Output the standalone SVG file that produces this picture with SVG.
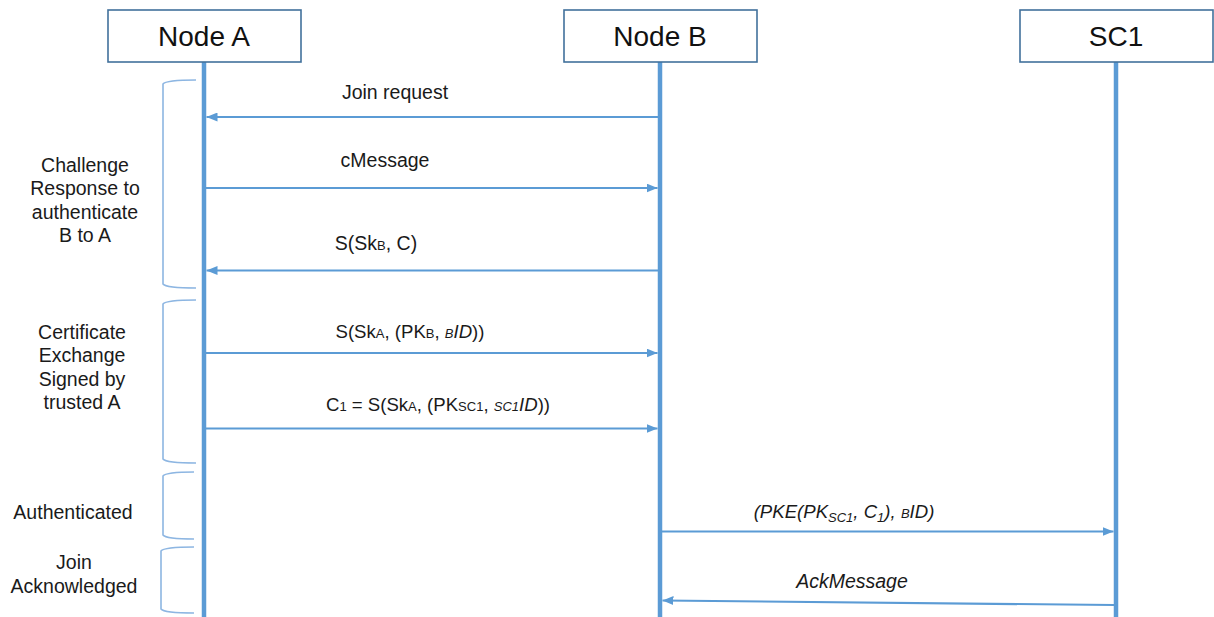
<svg xmlns="http://www.w3.org/2000/svg" width="1214" height="617" viewBox="0 0 1214 617">
  <style>
    .box { fill: #ffffff; stroke: #41719C; stroke-width: 1.6; }
    .title { font-family: "Liberation Sans", Arial, sans-serif; font-size: 28px; fill: #111; text-anchor: middle; }
    .life { stroke: #5B9BD5; stroke-width: 4.5; }
    .msg { stroke: #5B9BD5; stroke-width: 2.2; fill: none; marker-end: url(#head); }
    .lbl { font-family: "Liberation Sans", Arial, sans-serif; font-size: 19.5px; fill: #1a1a1a; text-anchor: middle; }
    .tight { font-size: 18.6px; }
    .note { font-family: "Liberation Sans", Arial, sans-serif; font-size: 19.5px; fill: #1a1a1a; text-anchor: middle; }
    .brace { stroke: #8DB6E2; stroke-width: 1.6; fill: none; }
    .sm { font-size: 13px; }
    .it { font-style: italic; }
  </style>
  <defs>
    <marker id="head" markerUnits="userSpaceOnUse" markerWidth="11" markerHeight="9" refX="11" refY="4.5" orient="auto">
      <path d="M0,0 L11,4.5 L0,9 z" fill="#5B9BD5"/>
    </marker>
  </defs>

  <rect width="1214" height="617" fill="#ffffff"/>

  <!-- lifelines -->
  <g id="lifelines">
    <line class="life" x1="204" y1="62" x2="204" y2="617"/>
    <line class="life" x1="660" y1="62" x2="660" y2="617"/>
    <line class="life" x1="1116" y1="62" x2="1116" y2="617"/>
  </g>

  <!-- participants -->
  <g id="node-a">
    <rect class="box" x="108" y="10" width="193" height="52"/>
    <text class="title" x="204" y="46">Node A</text>
  </g>
  <g id="node-b">
    <rect class="box" x="564" y="10" width="193" height="52"/>
    <text class="title" x="660" y="46">Node B</text>
  </g>
  <g id="sc1">
    <rect class="box" x="1020" y="10" width="193" height="52"/>
    <text class="title" x="1116" y="46">SC1</text>
  </g>

  <!-- phase brackets -->
  <g id="phase-challenge">
    <path class="brace" d="M196,80 Q166,80 163,84 L163,284 Q166,288 196,288"/>
    <text class="note" x="85" y="172">Challenge</text>
    <text class="note" x="85" y="195">Response to</text>
    <text class="note" x="85" y="219">authenticate</text>
    <text class="note" x="85" y="242">B to A</text>
  </g>
  <g id="phase-certificate">
    <path class="brace" d="M196,300 Q166,300 163,304 L163,459 Q166,463 196,463"/>
    <text class="note" x="82" y="339">Certificate</text>
    <text class="note" x="82" y="362">Exchange</text>
    <text class="note" x="82" y="386">Signed by</text>
    <text class="note" x="82" y="409">trusted A</text>
  </g>
  <g id="phase-authenticated">
    <path class="brace" d="M194,472 Q166,472 163,476 L163,535 Q166,539 194,539"/>
    <text class="note" x="73" y="519">Authenticated</text>
  </g>
  <g id="phase-join">
    <path class="brace" d="M194,547 Q164,547 161,551 L161,609 Q164,613 194,613"/>
    <text class="note" x="74" y="569">Join</text>
    <text class="note" x="74" y="593">Acknowledged</text>
  </g>

  <!-- messages -->
  <g id="connectors">
    <line class="msg" x1="658" y1="117" x2="206.5" y2="117"/>
    <line class="msg" x1="206" y1="188" x2="657.5" y2="188"/>
    <line class="msg" x1="658" y1="270.5" x2="206.5" y2="270.5"/>
    <line class="msg" x1="206" y1="353" x2="657.5" y2="353"/>
    <line class="msg" x1="206" y1="428.5" x2="657.5" y2="428.5"/>
    <line class="msg" x1="662" y1="531.5" x2="1113.5" y2="531.5"/>
    <line class="msg" x1="1114" y1="605" x2="662.5" y2="600.5"/>
  </g>

  <!-- message labels -->
  <g id="labels">
    <text class="lbl" x="395" y="99">Join request</text>
    <text class="lbl" x="385" y="167">cMessage</text>
    <text class="lbl" x="376" y="250">S(Sk<tspan class="sm">B</tspan>, C)</text>
    <text class="lbl tight" x="410" y="338">S(Sk<tspan class="sm">A</tspan>, (PK<tspan class="sm">B</tspan>, <tspan class="sm it">B</tspan><tspan class="it">ID</tspan>))</text>
    <text class="lbl tight" x="438" y="411">C<tspan class="sm">1</tspan> = S(Sk<tspan class="sm">A</tspan>, (PK<tspan class="sm">SC1</tspan>, <tspan class="sm it">SC1</tspan><tspan class="it">ID</tspan>))</text>
    <text class="lbl tight it" x="844" y="518">(PKE(PK<tspan class="sm" dy="4">SC1</tspan><tspan dy="-4">, C</tspan><tspan class="sm" dy="4">1</tspan><tspan dy="-4">), </tspan><tspan class="sm">B</tspan>ID)</text>
    <text class="lbl it" x="852" y="588">AckMessage</text>
  </g>
</svg>
